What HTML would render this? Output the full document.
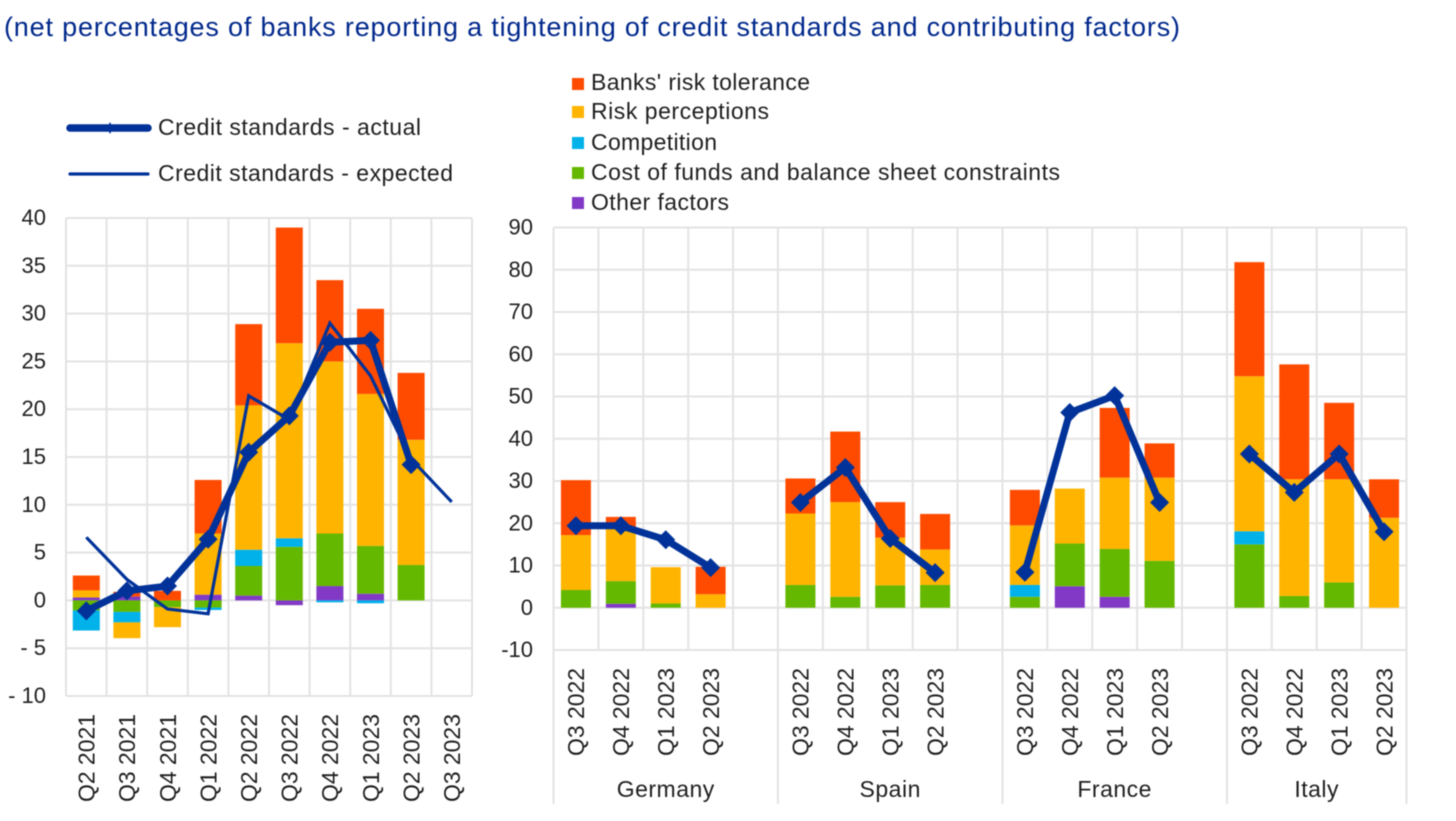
<!DOCTYPE html>
<html lang="en">
<head>
<meta charset="utf-8">
<title>Credit standards chart</title>
<style>
html,body{margin:0;padding:0;background:#fff;width:1456px;height:821px;overflow:hidden}
svg{display:block;position:absolute;left:0;top:0}
text{font-family:"Liberation Sans",Arial,sans-serif;fill:#1e1e1e;font-size:23px}
text.tick{font-size:22px}
#art{filter:blur(0.4px)}
</style>
</head>
<body>
<svg id="chart" width="1456" height="821" viewBox="0 0 1456 821" xmlns="http://www.w3.org/2000/svg">
  <rect width="1456" height="821" fill="#fff"/>
  <g id="art">
    <text x="4" y="36" style="font-size:27px;fill:#00288c" textLength="1176" lengthAdjust="spacing">(net percentages of banks reporting a tightening of credit standards and contributing factors)</text>

    <g id="left-chart"></g>
    <g id="right-chart"></g>

    <g>
      <g>
        <line x1="70" x2="148" y1="128" y2="128" stroke="#003299" stroke-width="7.5" stroke-linecap="round"/>
        <path d="M110 122l3 6-3 6-3-6z" fill="#003299"/>
        <text x="158" y="135" textLength="263" lengthAdjust="spacing">Credit standards - actual</text>
      </g>
      <g>
        <line x1="70" x2="148" y1="174" y2="174" stroke="#003299" stroke-width="3.2" stroke-linecap="round"/>
        <text x="158" y="181" textLength="295" lengthAdjust="spacing">Credit standards - expected</text>
      </g>
    </g>

    <g>
      <g>
        <rect x="572" y="78" width="12" height="12" fill="#FF4B00"/>
        <text x="591" y="90" textLength="219" lengthAdjust="spacing">Banks' risk tolerance</text>
      </g>
      <g>
        <rect x="572" y="106" width="12" height="12" fill="#FFB400"/>
        <text x="591" y="119" textLength="178" lengthAdjust="spacing">Risk perceptions</text>
      </g>
      <g>
        <rect x="572" y="137" width="12" height="12" fill="#00B1EA"/>
        <text x="591" y="150" textLength="126" lengthAdjust="spacing">Competition</text>
      </g>
      <g>
        <rect x="572" y="167" width="12" height="12" fill="#65B800"/>
        <text x="591" y="180" textLength="469" lengthAdjust="spacing">Cost of funds and balance sheet constraints</text>
      </g>
      <g>
        <rect x="572" y="197" width="12" height="12" fill="#8139C6"/>
        <text x="591" y="210" textLength="138" lengthAdjust="spacing">Other factors</text>
      </g>
    </g>
  </g>
</svg>
<script>
// ---- Left chart data ----
const leftCategories = ["Q2 2021","Q3 2021","Q4 2021","Q1 2022","Q2 2022","Q3 2022","Q4 2022","Q1 2023","Q2 2023","Q3 2023"];
const leftTicks = [40,35,30,25,20,15,10,5,0,-5,-10];
const leftOther = [0.3,0.4,0,0.6,0.5,-0.5,1.5,0.7,0,null];
const leftCost = [-1.05,-1.2,-0.7,-0.75,3.1,5.6,5.5,5.0,3.7,null];
const leftCompetition = [-2.1,-1.1,0,-0.25,1.7,0.9,-0.2,-0.3,0,null];
const leftRisk = [0.75,-1.65,-2.1,6.4,15.1,20.4,18.0,15.9,13.1,null];
const leftTolerance = [1.55,0.5,1.0,5.6,8.5,12.1,8.5,8.9,7.0,null];
const leftActual = [-1.1,1.0,1.5,6.4,15.5,19.3,27.0,27.2,14.2,null];
const leftExpected = [6.6,2.2,-0.9,-1.4,21.4,18.9,29.0,23.5,14.8,10.3];

// ---- Right chart data ----
const rightCategories = ["Q3 2022","Q4 2022","Q1 2023","Q2 2023","","Q3 2022","Q4 2022","Q1 2023","Q2 2023","","Q3 2022","Q4 2022","Q1 2023","Q2 2023","","Q3 2022","Q4 2022","Q1 2023","Q2 2023"];
const rightGroups = ["Germany","Spain","France","Italy"];
const rightTicks = [90,80,70,60,50,40,30,20,10,0,-10];
const rightOther = [0,0.95,0,0,null,0,0,0,0,null,0,5.1,2.6,0,null,0,0,0,0];
const rightCost = [4.2,5.35,1.0,0,null,5.4,2.6,5.3,5.4,null,2.6,10.1,11.3,11.1,null,15.0,2.8,6.0,0];
const rightCompetition = [0,0,0,0,null,0,0,0,0,null,2.8,0,0,0,null,3.1,0,0,0];
const rightRisk = [13.0,12.4,8.6,3.2,null,16.9,22.4,11.3,8.4,null,14.1,13.0,16.9,19.7,null,36.7,27.6,24.4,21.3];
const rightTolerance = [13.0,2.8,0,6.5,null,8.3,16.7,8.4,8.4,null,8.4,0,16.5,8.1,null,27.0,27.2,18.1,9.1];
const rightActual = [19.4,19.4,16.1,9.5,null,24.9,33.2,16.4,8.3,null,8.4,46.2,50.2,24.9,null,36.4,27.3,36.4,18.0];

// ---- Series styling (stack order, bottom to top) ----
const seriesNames = ["other","cost","competition","risk","tolerance"];
const seriesColors = ["#8139C6","#65B800","#00B1EA","#FFB400","#FF4B00"];
const NAVY = "#003299";
const GRID = "#e3e3e3";
const NS = "http://www.w3.org/2000/svg";

function make(tag, parent, attrs) {
  const el = document.createElementNS(NS, tag);
  for (const k in attrs) el.setAttribute(k, attrs[k]);
  parent.appendChild(el);
  return el;
}

function drawPanel(root, cfg) {
  const yScale = v => cfg.top + (cfg.yMax - v) * (cfg.bottom - cfg.top) / (cfg.yMax - cfg.yMin);
  const step = (cfg.right - cfg.left) / cfg.categories.length;
  const xBand = i => cfg.left + step * i;
  const xCenter = i => xBand(i) + step / 2;

  // Gridlines and y tick labels
  cfg.ticks.forEach(t => {
    const grid = make("line", root, {x1: cfg.left, x2: cfg.right, y1: yScale(t), y2: yScale(t), stroke: GRID, "stroke-width": 2});
    
    
    const lab = make("text", root, {x: cfg.tickX, y: yScale(t) + 7, "text-anchor": "end", class: "tick"});
    lab.textContent = t < 0 ? cfg.negPrefix + Math.abs(t) : String(t);
    
    
  });
  for (let i = 0; i <= cfg.categories.length; i++) {
    const isSep = cfg.separators && cfg.separators.includes(i);
    const vline = make("line", root, {x1: xBand(i), x2: xBand(i), y1: cfg.top, y2: isSep ? cfg.sepBottom : cfg.bottom, stroke: GRID, "stroke-width": 2});
    
    
  }

  // Stacked bars
  cfg.categories.forEach((c, i) => {
    let up = 0, down = 0;
    cfg.series.forEach((values, s) => {
      const v = values[i];
      if (v === null || v === 0) return;
      let y0, y1;
      if (v > 0) { y0 = up; y1 = up + v; up = y1; }
      else { y0 = down; y1 = down + v; down = y1; }
      const bar = make("rect", root, {
        x: xCenter(i) - cfg.barWidth / 2,
        y: Math.min(yScale(y0), yScale(y1)),
        width: cfg.barWidth,
        height: Math.abs(yScale(y1) - yScale(y0)),
        fill: seriesColors[s]
      });
      
      
    });
  });

  // Line segments split on nulls
  function drawLine(values, width, withMarkers, name) {
    let pts = [];
    const flush = () => {
      if (pts.length > 1) {
        const line = make("polyline", root, {points: pts.map(p => p.join(",")).join(" "), fill: "none", stroke: NAVY, "stroke-width": width, "stroke-linejoin": "miter"});
        
        
      }
      pts = [];
    };
    values.forEach((v, i) => {
      if (v === null) { flush(); return; }
      pts.push([xCenter(i), yScale(v)]);
    });
    flush();
    if (withMarkers) {
      values.forEach((v, i) => {
        if (v === null) return;
        const x = xCenter(i), y = yScale(v);
        const m = make("polygon", root, {points: [[x, y - 9.5], [x + 9.5, y], [x, y + 9.5], [x - 9.5, y]].map(p => p.join(",")).join(" "), fill: NAVY});
        
        
      });
    }
  }
  if (cfg.expected) drawLine(cfg.expected, 3.2, false, 'expected-line');
  drawLine(cfg.actual, 7, true, 'actual-line');

  // Rotated category labels
  cfg.categories.forEach((c, i) => {
    if (!c) return;
    const x = xCenter(i) + 8.3;
    const lab = make("text", root, {x: x, y: cfg.catY, transform: "rotate(-90 " + x + " " + cfg.catY + ")", textLength: 88, lengthAdjust: "spacing"});
    lab.textContent = c;
    
    
  });
}

drawPanel(document.getElementById("left-chart"), {
  left: 66, right: 472, top: 218, bottom: 696, yMax: 40, yMin: -10,
  categories: leftCategories, ticks: leftTicks, tickX: 46, barWidth: 27, negPrefix: "- ",
  series: [leftOther, leftCost, leftCompetition, leftRisk, leftTolerance],
  actual: leftActual, expected: leftExpected, catY: 802
});

drawPanel(document.getElementById("right-chart"), {
  left: 553.5, right: 1406.5, top: 227.5, bottom: 650, yMax: 90, yMin: -10,
  categories: rightCategories, ticks: rightTicks, tickX: 533, barWidth: 30, negPrefix: "-",
  series: [rightOther, rightCost, rightCompetition, rightRisk, rightTolerance],
  actual: rightActual, catY: 756,
  separators: [0, 5, 10, 15, 19], sepBottom: 804
});

// Country group labels, centred between separators
const groupStarts = [0, 5, 10, 15];
const groupEnds = [5, 10, 15, 19];
const rightRoot = document.getElementById("right-chart");
rightGroups.forEach((g, i) => {
  const step = (1406.5 - 553.5) / rightCategories.length;
  const cx = 553.5 + step * (groupStarts[i] + groupEnds[i]) / 2;
  const lab = make("text", rightRoot, {x: cx, y: 797, "text-anchor": "middle", "letter-spacing": "0.5"});
  lab.textContent = g;
  
  
});
</script>
</body>
</html>
